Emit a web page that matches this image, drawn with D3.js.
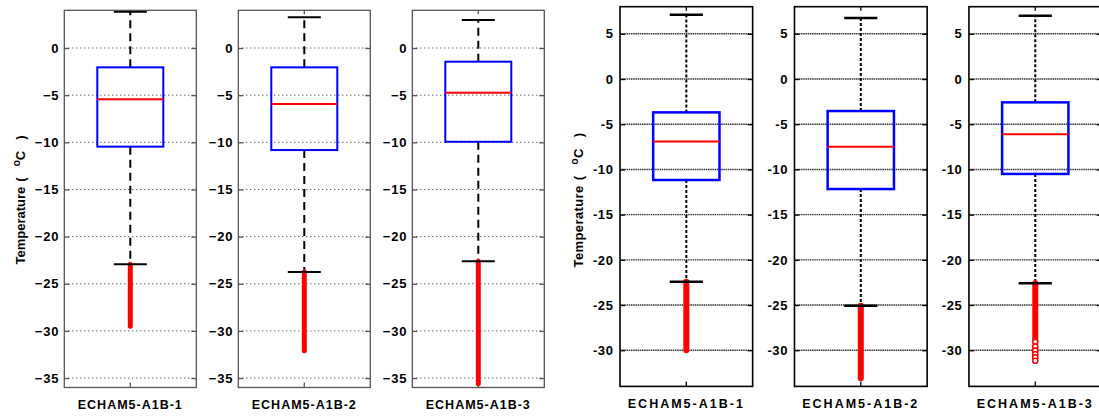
<!DOCTYPE html>
<html>
<head>
<meta charset="utf-8">
<script src="https://cdn.jsdelivr.net/npm/d3@7"></script>
<style>
  html, body { margin: 0; padding: 0; background: #fff; }
  svg { display: block; font-family: "Liberation Sans", Arial, sans-serif; }
</style>
</head>
<body>
<svg id="chart" width="1099" height="418"></svg>
<script>
// ---------- data ----------
const categories = ["ECHAM5-A1B-1", "ECHAM5-A1B-2", "ECHAM5-A1B-3"];

// left group (dashed whiskers)
const leftUpperWhisker = [3.85, 3.26, 2.97];
const leftQ3 = [-2.05, -2.05, -1.45];
const leftMedian = [-5.44, -5.94, -4.74];
const leftQ1 = [-10.46, -10.82, -9.94];
const leftLowerWhisker = [-22.94, -23.75, -22.6];
const leftOutlierMin = [-29.5, -32.1, -35.6];
const leftTicks = [0, -5, -10, -15, -20, -25, -30, -35];

// right group (dotted whiskers)
const rightUpperWhisker = [7.11, 6.75, 7.0];
const rightQ3 = [-3.69, -3.54, -2.58];
const rightMedian = [-6.9, -7.49, -6.12];
const rightQ1 = [-11.17, -12.17, -10.5];
const rightLowerWhisker = [-22.42, -25.08, -22.6];
const rightOutlierBandMin = [-30.0, -33.1, -28.9];
const rightSparseOutliers = [[], [], [-29.06, -29.61, -30.05, -30.42, -30.79, -31.16]];
const rightTicks = [5, 0, -5, -10, -15, -20, -25, -30];

const yLabel = "Temperature";

// ---------- drawing ----------
const svg = d3.select("#chart");

function drawGroup(cfg) {
  const px = d3.scaleBand().domain(categories).range(cfg.xRange).paddingInner(cfg.pad);
  const w = px.bandwidth();
  const y = d3.scaleLinear().domain(cfg.yDomain).range(cfg.yRange);
  const inner = d3.scaleLinear().domain([0.5, 1.5]).range([0, w]);
  const top = cfg.yRange[1], bottom = cfg.yRange[0];

  categories.forEach((cat, i) => {
    const g = svg.append("g").attr("transform", `translate(${px(cat)},0)`);

    // gridlines
    g.append("g").selectAll("line").data(cfg.ticks).join("line")
      .attr("x1", 0).attr("x2", w)
      .attr("y1", d => y(d)).attr("y2", d => y(d))
      .attr("stroke", cfg.gridColor).attr("stroke-width", cfg.gridWidth)
      .attr("stroke-dasharray", cfg.gridDash);

    // left axis (labels + inward ticks)
    const axL = g.append("g").call(
      d3.axisLeft(y).tickValues(cfg.ticks).tickSizeInner(-5).tickSizeOuter(0)
        .tickPadding(cfg.tickPad).tickFormat(cfg.fmt));
    axL.attr("font-size", null).attr("font-family", null);
    axL.select(".domain").remove();
    axL.selectAll(".tick line").attr("stroke", cfg.frameColor).attr("stroke-width", 1.3);
    axL.selectAll(".tick text").style("font-size", cfg.tickFont + "px").style("font-weight", "bold")
      .attr("fill", "#000").style("letter-spacing", cfg.tickSpacing + "px")
      .style("font-family", "'Liberation Sans', Arial, sans-serif");

    // right side inward ticks
    const axR = g.append("g").attr("transform", `translate(${w},0)`).call(
      d3.axisRight(y).tickValues(cfg.ticks).tickSizeInner(-5).tickSizeOuter(0).tickFormat(""));
    axR.select(".domain").remove();
    axR.selectAll(".tick line").attr("stroke", cfg.frameColor).attr("stroke-width", 1.3);

    // top / bottom centre ticks
    g.append("line").attr("x1", inner(1)).attr("x2", inner(1))
      .attr("y1", bottom).attr("y2", bottom - 5).attr("stroke", cfg.frameColor).attr("stroke-width", 1.3);
    g.append("line").attr("x1", inner(1)).attr("x2", inner(1))
      .attr("y1", top).attr("y2", top + 4).attr("stroke", cfg.frameColor).attr("stroke-width", 1.3);

    // whiskers
    g.append("line").attr("x1", inner(1)).attr("x2", inner(1))
      .attr("y1", y(cfg.q3[i])).attr("y2", y(cfg.upper[i]))
      .attr("stroke", "#000").attr("stroke-width", 2).attr("stroke-dasharray", cfg.whiskerDash);
    g.append("line").attr("x1", inner(1)).attr("x2", inner(1))
      .attr("y1", y(cfg.q1[i])).attr("y2", y(cfg.lower[i]))
      .attr("stroke", "#000").attr("stroke-width", 2).attr("stroke-dasharray", cfg.whiskerDash);

    // outlier band
    g.append("line").attr("x1", inner(1)).attr("x2", inner(1))
      .attr("y1", y(cfg.lower[i])).attr("y2", y(cfg.outMin[i]))
      .attr("stroke", "#ff0000").attr("stroke-width", cfg.bandWidth).attr("stroke-linecap", "round");

    // sparse outliers
    g.append("g").selectAll("circle").data(cfg.sparse[i]).join("circle")
      .attr("cx", inner(1)).attr("cy", d => y(d)).attr("r", 2.6)
      .attr("fill", "#fff").attr("stroke", "#ff0000").attr("stroke-width", 1.5);

    // caps
    [cfg.upper[i], cfg.lower[i]].forEach(v => {
      g.append("line").attr("x1", inner(0.875)).attr("x2", inner(1.125))
        .attr("y1", y(v)).attr("y2", y(v)).attr("stroke", "#000").attr("stroke-width", cfg.capWidth);
    });

    // box
    g.append("rect").attr("x", inner(0.75)).attr("width", inner(1.25) - inner(0.75))
      .attr("y", y(cfg.q3[i])).attr("height", y(cfg.q1[i]) - y(cfg.q3[i]))
      .attr("fill", "none").attr("stroke", "#0000ff").attr("stroke-width", cfg.boxWidth);

    // median
    g.append("line").attr("x1", inner(0.75)).attr("x2", inner(1.25))
      .attr("y1", y(cfg.median[i])).attr("y2", y(cfg.median[i]))
      .attr("stroke", "#ff0000").attr("stroke-width", 2);

    // frame
    g.append("rect").attr("x", 0).attr("y", top).attr("width", w).attr("height", bottom - top)
      .attr("fill", "none").attr("stroke", cfg.frameColor).attr("stroke-width", cfg.frameWidth);

    // category label
    g.append("text").attr("x", inner(1)).attr("y", cfg.labelY)
      .attr("text-anchor", "middle").attr("font-size", 12.5).attr("font-weight", "bold")
      .attr("letter-spacing", cfg.labelSpacing)
      .text(cat);
  });

  // y-axis title
  const t = svg.append("text")
    .attr("transform", `translate(${cfg.titleX},${cfg.titleY}) rotate(-90)`)
    .attr("text-anchor", "middle").attr("font-size", 13).attr("font-weight", "bold")
    .attr("letter-spacing", cfg.titleSpacing);
  t.append("tspan").text(yLabel);
  t.append("tspan").attr("dx", 5).text("(");
  t.append("tspan").attr("dx", 11).attr("dy", -5).attr("font-size", 10).text("o");
  t.append("tspan").attr("dy", 5).text("C");
  t.append("tspan").attr("dx", 11).text(")");
}

drawGroup({
  xRange: [64.3, 544.3], pad: 42 / 174,
  yDomain: [-36, 4], yRange: [387.5, 10.3],
  ticks: leftTicks, fmt: d3.format("d"), tickPad: 5, tickFont: 13, tickSpacing: 0.8,
  upper: leftUpperWhisker, q3: leftQ3, median: leftMedian, q1: leftQ1,
  lower: leftLowerWhisker, outMin: leftOutlierMin, sparse: [[], [], []],
  gridColor: "#222", gridWidth: 1, gridDash: "1,3",
  frameColor: "#555", frameWidth: 1.3,
  whiskerDash: "8,5", capWidth: 2, boxWidth: 2, bandWidth: 5,
  labelY: 409, labelSpacing: 1,
  titleX: 25, titleY: 200, titleSpacing: 0
});

drawGroup({
  xRange: [620, 1101.6], pad: 41.8 / 174.4,
  yDomain: [-34, 8], yRange: [386.4, 6.7],
  ticks: rightTicks, fmt: d => String(d), tickPad: 6.5, tickFont: 13, tickSpacing: 0.6,
  upper: rightUpperWhisker, q3: rightQ3, median: rightMedian, q1: rightQ1,
  lower: rightLowerWhisker, outMin: rightOutlierBandMin, sparse: rightSparseOutliers,
  gridColor: "#333", gridWidth: 1.4, gridDash: "1.5,0.7",
  frameColor: "#000", frameWidth: 1.6,
  whiskerDash: "3,2", capWidth: 2.5, boxWidth: 2.5, bandWidth: 6,
  labelY: 408, labelSpacing: 2,
  titleX: 582.5, titleY: 200, titleSpacing: 0.4
});
</script>
</body>
</html>
